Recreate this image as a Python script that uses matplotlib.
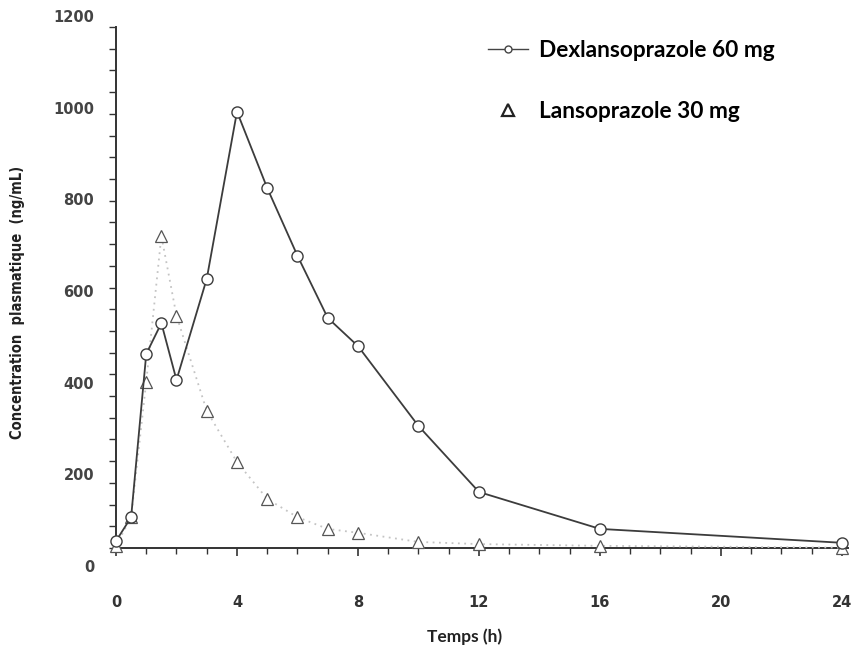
import numpy as np
import matplotlib
matplotlib.use('Agg')
import matplotlib.pyplot as plt
from matplotlib.lines import Line2D
from matplotlib.ticker import MultipleLocator

# Temps de prelevement (h)
temps = [0, 0.5, 1, 1.5, 2, 3, 4, 5, 6, 7, 8, 10, 12, 16, 24]

# Concentrations plasmatiques (ng/mL)
dexlanso = [16, 71, 447, 518, 387, 620, 1005, 829, 673, 530, 465, 281, 129, 44, 12]
lanso = [5, 71, 383, 719, 535, 316, 198, 113, 71, 44, 35, 14, 9, 5, 1]

x_ticks = [0, 4, 8, 12, 16, 20, 24]
y_labels = [0, 200, 400, 600, 800, 1000, 1200]

noms = ["Dexlansoprazole 60 mg", "Lansoprazole 30 mg"]
titre_x = "Temps (h)"
titre_y = "Concentration  plasmatique  (ng/mL)"

fig = plt.figure(figsize=(8.54, 6.48), dpi=100)
ax = fig.add_axes([116 / 854, 1 - 548 / 648, 732 / 854, 521 / 648])

# Lansoprazole : triangles, pointilles gris tres clair
ax.plot(temps, lanso, linestyle=(0, (1, 2.5)), color='#c4c4c4', linewidth=1.3,
        marker='^', markersize=8, markerfacecolor='white',
        markeredgecolor='#555555', markeredgewidth=0.9, clip_on=False, zorder=3)

# Dexlansoprazole : cercles, trait plein
ax.plot(temps, dexlanso, linestyle='-', color='#3c3c3c', linewidth=1.3,
        marker='o', markersize=8, markerfacecolor='white',
        markeredgecolor='#3c3c3c', markeredgewidth=1.0, clip_on=False, zorder=4)

ax.set_xlim(0, 24.2)
ax.set_ylim(0, 1200)

for cote in ['top', 'right']:
    ax.spines[cote].set_visible(False)
for cote in ['left', 'bottom']:
    ax.spines[cote].set_linewidth(1.4)
    ax.spines[cote].set_color('#333333')

ax.set_xticks(x_ticks)
ax.xaxis.set_minor_locator(MultipleLocator(1))
ax.tick_params(axis='x', which='major', length=6, width=1.2, color='#333333',
               pad=28, labelsize=10.5, labelcolor='#333333')
ax.tick_params(axis='x', which='minor', length=4, width=1.0, color='#333333')
for lab in ax.get_xticklabels():
    lab.set_fontweight('bold')

# graduations verticales tous les 50, etiquettes placees comme sur l'original
ax.yaxis.set_major_locator(MultipleLocator(50))
ax.tick_params(axis='y', which='major', length=5, width=1.0, color='#333333',
               labelleft=False)
for v in y_labels:
    ax.text(-0.030, 1.056 * v - 45, str(v), transform=ax.get_yaxis_transform(),
            ha='right', va='center', fontsize=10.5, fontweight='bold',
            color='#444444', clip_on=False)

fig.text(465 / 854, 1 - 637 / 648, titre_x, ha='center', va='center',
         fontsize=12.5, fontweight='bold', family=['Lato', 'DejaVu Sans'],
         color='#222222')
fig.text(18 / 854, 1 - 302 / 648, titre_y, rotation=90, ha='center', va='center',
         fontsize=10.5, fontweight='bold', fontstretch='condensed',
         family='DejaVu Sans', color='#222222')

poignees = [
    Line2D([], [], color='#444444', linewidth=1.0, marker='o', markersize=5,
           markerfacecolor='white', markeredgecolor='#444444'),
    Line2D([], [], linestyle='none', marker='^', markersize=9,
           markerfacecolor='white', markeredgecolor='#222222',
           markeredgewidth=1.6),
]
fig.legend(poignees, noms, loc='upper left', bbox_to_anchor=(488 / 854, 1 - 40 / 648),
           frameon=False, borderpad=0, borderaxespad=0, handlelength=1.75,
           handletextpad=0.5, labelspacing=1.75,
           prop={'family': ['Lato', 'DejaVu Sans'], 'weight': 'bold', 'size': 16.3})

fig.savefig('out.png', dpi=100, facecolor='white')
